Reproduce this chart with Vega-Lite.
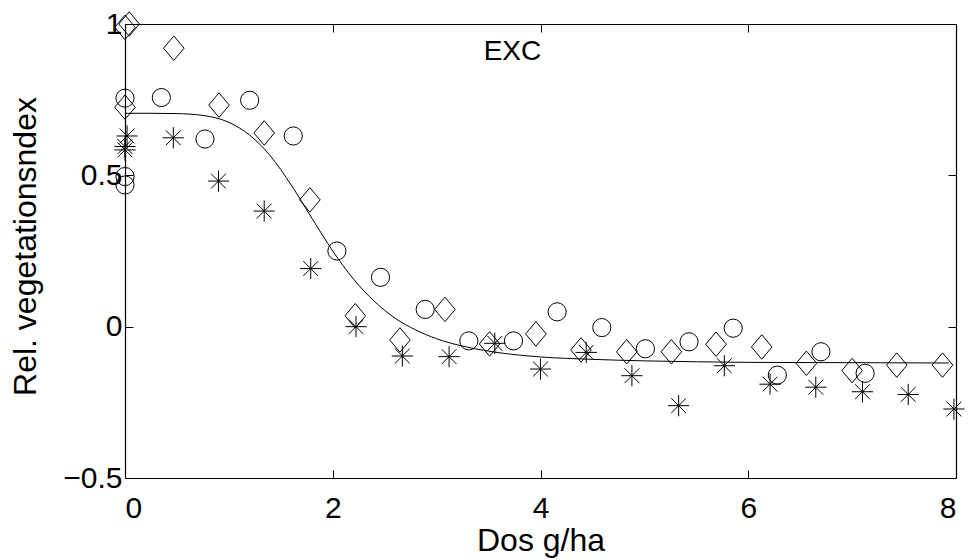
{
  "$schema": "https://vega.github.io/schema/vega-lite/v6.json",
  "autosize": {"type": "none"},
  "padding": {"left": 125, "top": 24, "right": 23, "bottom": 82},
  "width": 831,
  "height": 454,
  "background": "white",
  "datasets": {
    "points": [
      {"dose": 0, "value": 0.755, "series": "o"},
      {"dose": 0, "value": 0.496, "series": "o"},
      {"dose": 0, "value": 0.468, "series": "o"},
      {"dose": 0.35, "value": 0.757, "series": "o"},
      {"dose": 0.77, "value": 0.62, "series": "o"},
      {"dose": 1.2, "value": 0.748, "series": "o"},
      {"dose": 1.62, "value": 0.63, "series": "o"},
      {"dose": 2.04, "value": 0.25, "series": "o"},
      {"dose": 2.46, "value": 0.163, "series": "o"},
      {"dose": 2.89, "value": 0.057, "series": "o"},
      {"dose": 3.31, "value": -0.047, "series": "o"},
      {"dose": 3.74, "value": -0.047, "series": "o"},
      {"dose": 4.16, "value": 0.049, "series": "o"},
      {"dose": 4.59, "value": -0.003, "series": "o"},
      {"dose": 5.01, "value": -0.073, "series": "o"},
      {"dose": 5.43, "value": -0.05, "series": "o"},
      {"dose": 5.855, "value": -0.005, "series": "o"},
      {"dose": 6.28, "value": -0.16, "series": "o"},
      {"dose": 6.7, "value": -0.083, "series": "o"},
      {"dose": 7.125, "value": -0.154, "series": "o"},
      {"dose": 0, "value": 0.989, "series": "d"},
      {"dose": 0.04, "value": 1.0, "series": "d"},
      {"dose": 0, "value": 0.725, "series": "d"},
      {"dose": 0.47, "value": 0.92, "series": "d"},
      {"dose": 0.905, "value": 0.732, "series": "d"},
      {"dose": 1.34, "value": 0.64, "series": "d"},
      {"dose": 1.78, "value": 0.419, "series": "d"},
      {"dose": 2.217, "value": 0.036, "series": "d"},
      {"dose": 2.647, "value": -0.044, "series": "d"},
      {"dose": 3.08, "value": 0.057, "series": "d"},
      {"dose": 3.51, "value": -0.057, "series": "d"},
      {"dose": 3.956, "value": -0.024, "series": "d"},
      {"dose": 4.39, "value": -0.077, "series": "d"},
      {"dose": 4.83, "value": -0.083, "series": "d"},
      {"dose": 5.26, "value": -0.083, "series": "d"},
      {"dose": 5.69, "value": -0.058, "series": "d"},
      {"dose": 6.13, "value": -0.067, "series": "d"},
      {"dose": 6.56, "value": -0.121, "series": "d"},
      {"dose": 7.0, "value": -0.145, "series": "d"},
      {"dose": 7.43, "value": -0.127, "series": "d"},
      {"dose": 7.87, "value": -0.127, "series": "d"},
      {"dose": 0.02, "value": 0.63, "series": "s"},
      {"dose": 0, "value": 0.595, "series": "s"},
      {"dose": 0, "value": 0.584, "series": "s"},
      {"dose": 0.465, "value": 0.624, "series": "s"},
      {"dose": 0.9, "value": 0.481, "series": "s"},
      {"dose": 1.34, "value": 0.382, "series": "s"},
      {"dose": 1.788, "value": 0.192, "series": "s"},
      {"dose": 2.224, "value": 0.0, "series": "s"},
      {"dose": 2.67, "value": -0.097, "series": "s"},
      {"dose": 3.12, "value": -0.099, "series": "s"},
      {"dose": 3.56, "value": -0.055, "series": "s"},
      {"dose": 4.0, "value": -0.14, "series": "s"},
      {"dose": 4.44, "value": -0.085, "series": "s"},
      {"dose": 4.88, "value": -0.162, "series": "s"},
      {"dose": 5.33, "value": -0.261, "series": "s"},
      {"dose": 5.77, "value": -0.129, "series": "s"},
      {"dose": 6.21, "value": -0.19, "series": "s"},
      {"dose": 6.65, "value": -0.2, "series": "s"},
      {"dose": 7.1, "value": -0.215, "series": "s"},
      {"dose": 7.54, "value": -0.224, "series": "s"},
      {"dose": 7.98, "value": -0.272, "series": "s"}
    ],
    "curve": [
      {"dose": 0, "value": 0.705},
      {"dose": 0.25, "value": 0.705},
      {"dose": 0.5, "value": 0.704},
      {"dose": 0.75, "value": 0.698},
      {"dose": 1.0, "value": 0.675},
      {"dose": 1.2, "value": 0.633},
      {"dose": 1.4, "value": 0.564},
      {"dose": 1.6, "value": 0.468},
      {"dose": 1.8, "value": 0.358},
      {"dose": 2.0, "value": 0.25},
      {"dose": 2.2, "value": 0.157},
      {"dose": 2.4, "value": 0.084},
      {"dose": 2.6, "value": 0.028},
      {"dose": 2.8, "value": -0.011},
      {"dose": 3.0, "value": -0.04},
      {"dose": 3.3, "value": -0.068},
      {"dose": 3.6, "value": -0.086},
      {"dose": 4.0, "value": -0.1},
      {"dose": 4.5, "value": -0.108},
      {"dose": 5.0, "value": -0.113},
      {"dose": 5.5, "value": -0.116},
      {"dose": 6.0, "value": -0.118},
      {"dose": 7.0, "value": -0.119},
      {"dose": 7.93, "value": -0.12}
    ],
    "labels": [
      {"dose": 3.73, "value": 0.907, "text": "EXC"}
    ]
  },
  "layer": [
    {
      "data": {"name": "points"},
      "transform": [{"filter": "datum.series === 'o'"}],
      "mark": {"type": "point", "shape": "circle", "size": 330, "filled": false, "stroke": "black", "strokeWidth": 1, "opacity": 1, "clip": false},
      "encoding": {
        "x": {"field": "dose", "type": "quantitative", "scale": {"domain": [0, 8], "nice": false, "zero": false},
          "axis": {"orient": "bottom", "values": [0, 2, 4, 6, 8], "format": "~g", "title": "Dos g/ha", "titleX": 415.5, "titleY": 72, "titleBaseline": "alphabetic", "titleAnchor": "middle", "titleAlign": "center", "labelPadding": 23}},
        "y": {"field": "value", "type": "quantitative", "scale": {"domain": [-0.5, 1], "nice": false, "zero": false},
          "axis": {"orient": "left", "values": [-0.5, 0, 0.5, 1], "format": "~g", "title": "Rel. vegetationsndex", "titleAngle": -90, "titleX": -90, "titleY": 222, "titleBaseline": "alphabetic", "titleAnchor": "middle", "titleAlign": "center", "labelPadding": 11}}
      }
    },
    {
      "data": {"name": "points"},
      "transform": [{"filter": "datum.series === 'd'"}],
      "mark": {"type": "point", "shape": "M0,-1L0.84,0L0,1L-0.84,0Z", "size": 600, "filled": false, "stroke": "black", "strokeWidth": 1, "opacity": 1, "clip": false},
      "encoding": {
        "x": {"field": "dose", "type": "quantitative", "axis": null},
        "y": {"field": "value", "type": "quantitative", "axis": null}
      }
    },
    {
      "data": {"name": "points"},
      "transform": [{"filter": "datum.series === 's'"}],
      "mark": {"type": "point", "shape": "M-1,0L1,0M0,-1L0,1M-0.7,-0.7L0.7,0.7M-0.7,0.7L0.7,-0.7", "size": 450, "filled": false, "stroke": "black", "strokeWidth": 1, "opacity": 1, "clip": false},
      "encoding": {
        "x": {"field": "dose", "type": "quantitative", "axis": null},
        "y": {"field": "value", "type": "quantitative", "axis": null}
      }
    },
    {
      "data": {"name": "curve"},
      "mark": {"type": "line", "color": "black", "strokeWidth": 1, "interpolate": "monotone"},
      "encoding": {
        "x": {"field": "dose", "type": "quantitative", "axis": {"orient": "top", "values": [0, 2, 4, 6, 8], "labels": false, "title": null}},
        "y": {"field": "value", "type": "quantitative", "axis": {"orient": "right", "values": [-0.5, 0, 0.5, 1], "labels": false, "title": null}}
      }
    },
    {
      "data": {"name": "labels"},
      "mark": {"type": "text", "font": "Liberation Sans", "fontSize": 28, "color": "black", "align": "center", "baseline": "middle"},
      "encoding": {
        "x": {"field": "dose", "type": "quantitative", "axis": null},
        "y": {"field": "value", "type": "quantitative", "axis": null},
        "text": {"field": "text"}
      }
    }
  ],
  "resolve": {"axis": {"x": "independent", "y": "independent"}},
  "config": {
    "view": {"stroke": null},
    "axis": {
      "grid": false,
      "domainColor": "black",
      "domainWidth": 1.2,
      "tickColor": "black",
      "tickWidth": 1,
      "tickSize": -8,
      "labelColor": "black",
      "titleColor": "black",
      "labelFont": "Liberation Sans",
      "titleFont": "Liberation Sans",
      "labelFontSize": 30,
      "titleFontSize": 32,
      "titleFontWeight": "normal"
    }
  }
}
